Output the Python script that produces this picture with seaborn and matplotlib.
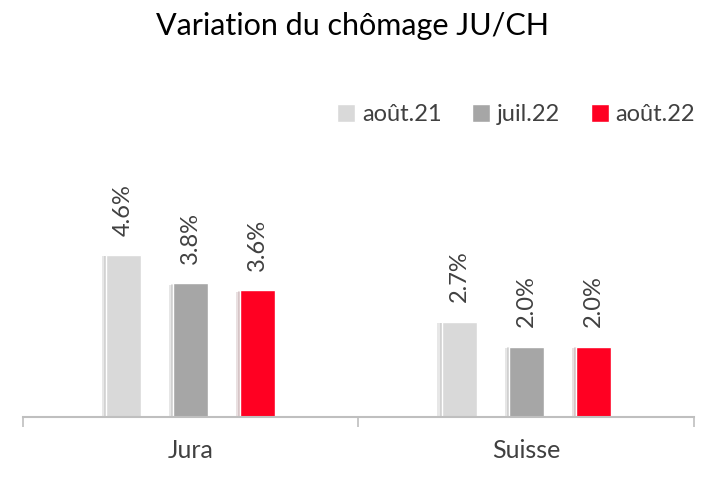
import matplotlib
matplotlib.use("Agg")
import matplotlib.pyplot as plt
import matplotlib.patheffects as pe
import pandas as pd
import seaborn as sns

regions = ["Jura", "Suisse"]
periodes = ["août.21", "juil.22", "août.22"]
jura = [4.6, 3.8, 3.6]
suisse = [2.7, 2.0, 2.0]
couleurs = ["#d9d9d9", "#a6a6a6", "#ff0022"]

df = pd.DataFrame({
    "region": [regions[0]] * 3 + [regions[1]] * 3,
    "periode": periodes * 2,
    "taux": jura + suisse,
})

sns.set_style("white")
plt.rcParams["font.family"] = ["Lato", "DejaVu Sans"]

fig = plt.figure(figsize=(7.05, 4.78), dpi=100)
ax = fig.add_axes([0.0326, 0.1276, 0.9517, 0.58])

sns.barplot(data=df, x="region", y="taux", hue="periode", hue_order=periodes,
            palette=couleurs, saturation=1, width=0.6, gap=0.48, ax=ax, legend=True)

h, l = ax.get_legend_handles_labels()
ax.legend(h, l, ncol=3, frameon=False, loc="center", bbox_to_anchor=(0.735, 1.09),
          fontsize=17, handlelength=0.75, handleheight=0.75, handletextpad=0.3,
          columnspacing=1.3, labelcolor="#404040")

# ombre légère à gauche des barres
for b in ax.patches:
    b.set_path_effects([pe.SimplePatchShadow(offset=(-3, -1), alpha=0.12),
                        pe.SimplePatchShadow(offset=(-1.5, -0.5), alpha=0.12),
                        pe.Normal()])

for c in ax.containers:
    ax.bar_label(c, labels=[f"{v:.1f}%" for v in c.datavalues], rotation=90,
                 padding=14, fontsize=17, color="#404040")

ax.set_xlim(-0.5, 1.5)
ax.set_ylim(0, 7.87)
ax.set_xlabel("")
ax.set_ylabel("")
ax.set_yticks([])
for s in ["top", "right", "left"]:
    ax.spines[s].set_visible(False)
ax.spines["bottom"].set_color("#bfbfbf")
ax.spines["bottom"].set_linewidth(1.5)
ax.set_xticks([-0.5, 0.5, 1.5])
ax.set_xticklabels(["", "", ""])
ax.tick_params(axis="x", bottom=True, length=7, width=1.2, color="#bfbfbf")
for i, r in enumerate(regions):
    ax.text(i, -0.94, r, ha="center", va="center", fontsize=18, color="#404040")

fig.suptitle("Variation du chômage JU/CH", y=0.975, fontsize=22, color="#000000")

fig.savefig("out.png", dpi=100)
